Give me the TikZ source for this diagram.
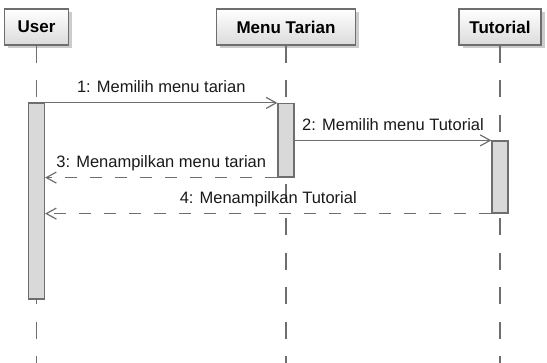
\documentclass[tikz,border=0pt]{standalone}
\usepackage{fontspec}
\setmainfont{Liberation Sans}
\usetikzlibrary{arrows.meta,shadows}
\definecolor{ln}{HTML}{6E6E6E}
\definecolor{actfill}{HTML}{D9D9D9}
\begin{document}
\begin{tikzpicture}[x=1pt,y=-1pt,
  head/.style={draw=ln, line width=1.2pt, top color=white, bottom color=black!14,
    minimum height=36pt, inner sep=0pt, text=black,
    font=\fontsize{17}{20}\selectfont\bfseries,
    drop shadow={shadow xshift=3.5pt, shadow yshift=-3.5pt, fill=black!40, opacity=0.5}},
  life/.style={draw=ln, line width=1.2pt, dash pattern=on 17.25pt off 17.25pt},
  actbox/.style={draw=ln, line width=1.2pt, fill=actfill, minimum width=16pt, inner sep=0pt},
  call/.style={draw=ln, line width=1.2pt, -{Straight Barb[length=10pt,width=11pt]}},
  reply/.style={call, dash pattern=on 12pt off 13pt},
  lbl/.style={font=\fontsize{16.5}{19}\selectfont, text=black!90, anchor=base, yshift=10pt, inner sep=0pt}
]
\useasboundingbox (0,0) rectangle (547,363);

\node[head, minimum width=64pt] (user) at (36.5,27) {User};
\node[head, minimum width=139pt] (menu) at (286,27) {Menu Tarian};
\node[head, minimum width=82pt] (tut) at (500,27) {Tutorial};

\coordinate (uEnd) at (36.5,363);
\coordinate (mEnd) at (286,363);
\coordinate (tEnd) at (500,363);
\draw[life] (user.south) -- (uEnd);
\draw[life] (menu.south) -- (mEnd);
\draw[life] (tut.south) -- (tEnd);

\node[actbox, minimum height=196pt] (a1) at (36.5,201) {};
\node[actbox, minimum height=73.5pt] (a2) at (286,140.25) {};
\node[actbox, minimum height=72pt] (a3) at (500,177) {};

\draw[call] (a1.east |- a2.north west) -- (a2.north west)
  node[lbl, midway] {1: Memilih menu tarian};
\draw[call] (a2.east |- a3.north west) -- (a3.north west)
  node[lbl, midway] {2: Memilih menu Tutorial};
\draw[reply] (a2.south west) -- (a1.east |- a2.south west)
  node[lbl, midway] {3: Menampilkan menu tarian};
\draw[reply] (a3.south west) -- (a1.east |- a3.south west)
  node[lbl, midway] {4: Menampilkan Tutorial};
\end{tikzpicture}
\end{document}
